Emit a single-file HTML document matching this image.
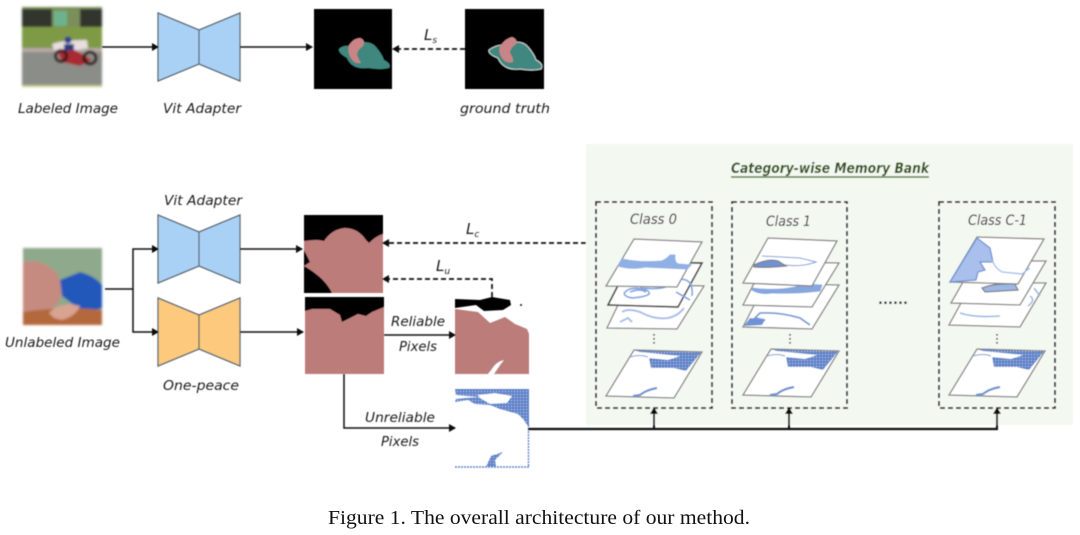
<!DOCTYPE html>
<html><head><meta charset="utf-8"><style>
html,body{margin:0;padding:0;background:#fff}
svg{display:block}
text{font-family:"DejaVu Sans","Liberation Sans",sans-serif;font-style:italic;fill:#1c1c1c;font-size:13px}
</style></head><body>
<svg width="1080" height="535" viewBox="0 0 1080 535" xmlns="http://www.w3.org/2000/svg">
<defs>
<filter id="b" x="-5%" y="-5%" width="110%" height="110%"><feGaussianBlur stdDeviation="0.5"/></filter>
<filter id="b2" x="-5%" y="-5%" width="110%" height="110%"><feGaussianBlur stdDeviation="1"/></filter>
<pattern id="h" width="3" height="3" patternUnits="userSpaceOnUse"><rect width="3" height="3" fill="#5f82c8"/><circle cx="1.5" cy="1.5" r=".6" fill="#c3d2ef"/></pattern>
<marker id="a" markerWidth="7" markerHeight="8" refX="6" refY="4" orient="auto" markerUnits="userSpaceOnUse"><path d="M0 0L7 4L0 8z" fill="#111"/></marker>
<g id="bp">
<polygon points="634,350 702,352 674,398 606,396" fill="#fff" stroke="#808080" stroke-width="1.3"/>
<polygon points="635,350.5 701,352.5 686,371 674,368 651,368 649,358 668,360 680,356 650,353 640,352" fill="url(#h)"/>
<path d="M630,357 Q640,354 648,357" fill="none" stroke="#7c9bd8" stroke-width="1"/>
<path d="M657,388 Q646,390 640,395 L633,396" fill="none" stroke="#6f92d4" stroke-width="2.2"/>
</g>
</defs>
<rect width="1080" height="535" fill="#fff"/>
<g filter="url(#b)">
<rect x="586" y="144" width="487" height="281" fill="#f3f8f1"/>

<!-- Labeled image -->
<g filter="url(#b2)">
<rect x="22" y="7" width="80" height="80" fill="#8b8d88"/>
<rect x="22" y="7" width="80" height="20" fill="#7a8f5a"/>
<rect x="22" y="9" width="30" height="18" fill="#30362f"/>
<rect x="80" y="9" width="22" height="18" fill="#30362f"/>
<rect x="54" y="11" width="13" height="15" fill="#6cb38c"/>
<rect x="22" y="27" width="80" height="21" fill="#7f9a45"/>
<rect x="22" y="48" width="80" height="4" fill="#b5a8a4"/>
<rect x="22" y="85" width="80" height="2" fill="#c9c98a"/>
<path d="M52 44Q62 40 87 40L88 48L66 52L54 50z" fill="#e8dede"/>
<circle cx="68" cy="40" r="3.5" fill="#2b3f8f"/>
<path d="M64 44h10v7H64z" fill="#2b3a80"/>
<path d="M58 52L75 50L92 60L80 66L62 62z" fill="#a82a30"/>
<circle cx="61" cy="56" r="5.5" fill="none" stroke="#3a1518" stroke-width="3"/>
<circle cx="90" cy="58" r="6" fill="none" stroke="#2a1214" stroke-width="3"/>
</g>

<!-- Encoders -->
<g stroke="#5b6773" stroke-width="1.3">
<polygon points="158,13 199,30 240,13 240,81 199,64 158,81" fill="#a9d1f5"/><line x1="199" y1="30" x2="199" y2="64"/>
<polygon points="158,215 199,232 240,215 240,283 199,266 158,283" fill="#a9d1f5"/><line x1="199" y1="232" x2="199" y2="266"/>
<polygon points="158,298 199,315 240,298 240,366 199,349 158,366" fill="#fdca7d"/><line x1="199" y1="315" x2="199" y2="349"/>
</g>

<!-- Top masks -->
<rect x="314" y="9" width="78" height="80" fill="#000"/>
<path d="M339 49Q343 45 350 46L364 42Q372 42 376 47Q382 54 384 60Q392 64 389 68Q380 70 368 68Q352 70 347 58Q338 53 339 49z" fill="#41877f"/>
<path d="M349 45Q354 38 360 38Q366 40 363 46Q357 50 357 55Q359 60 361 63Q354 64 351 58Q347 52 349 45z" fill="#c98585"/>
<rect x="465" y="9" width="79" height="80" fill="#000"/>
<path d="M489 50Q496 45 503 45L516 42Q524 42 528 47Q534 54 536 60Q544 64 541 69Q532 71 520 69Q504 71 498 58Q488 54 489 50z" fill="#41877f" stroke="#c9d4d0" stroke-width="1"/>
<path d="M500 46Q506 38 512 37Q518 39 516 44Q510 48 510 53Q514 59 513 62Q506 64 502 58Q498 52 500 46z" fill="#c98585"/>

<!-- Baby -->
<g filter="url(#b2)">
<rect x="23" y="248" width="79" height="77" fill="#8ea98c"/>
<path d="M23 262Q40 258 56 272Q64 285 60 300L52 310L23 312z" fill="#c68b80"/>
<path d="M60 280L80 272Q95 276 102 285V308L90 312L78 308L62 296z" fill="#2158ba"/>
<path d="M23 312Q60 306 102 310V325H23z" fill="#b4693c"/>
<path d="M49 313Q56 305 70 304L80 306Q76 316 62 320L54 318z" fill="#d9a391"/>
</g>

<!-- Bottom masks -->
<rect x="304" y="215" width="79" height="78" fill="#000"/>
<path d="M304 241Q318 239 324 241Q332 229 345 228Q358 228 366 240L369 243Q376 236 383 234V293H332Q325 278 304 266L310 262L304 250z" fill="#bc7b7a"/>
<rect x="305" y="297" width="79" height="77" fill="#bc7b7a"/>
<path d="M305 297H384V307L372 312L366 316L358 314L350 318L342 322L340 315L330 309L312 309L305 311z" fill="#000"/>
<path d="M455 309L478 312L490 323L505 317L515 324L527 329L529 334V374H455z" fill="#bc7b7a"/>
<path d="M455 299L480 300L492 297L510 300L511 305L503 310L484 311L476 305L455 308z" fill="#000"/>
<circle cx="521" cy="305" r="1" fill="#222"/>
<path d="M492 369Q496 362 504 360L500 365L494 374H488z" fill="#fff"/>
<!-- Unreliable -->
<path d="M455 389H529V425H527L524 420L518 414L500 409L490 405L475 404L468 400L455 402L456 399L478 397L490 404L507 403L512 396L495 393L477 395L480 397L456 395z" fill="url(#h)"/>
<path d="M528.5 425V467" stroke="#5f82c8" stroke-width="1.4" stroke-dasharray="2 1"/>
<path d="M455 467H529" stroke="#5f82c8" stroke-width="1.4" stroke-dasharray="2 1"/>
<path d="M486 467L491 456L503 452L495 460L496 467z" fill="url(#h)"/>
<!-- Arrows -->
<g stroke="#111" stroke-width="1.5" fill="none">
<line x1="102" y1="47" x2="158" y2="47" marker-end="url(#a)"/>
<line x1="240" y1="47" x2="312" y2="47" marker-end="url(#a)"/>
<line x1="465" y1="49" x2="393" y2="49" stroke-dasharray="5 3" stroke-width="1.7" marker-end="url(#a)"/>
<path d="M105 289H133"/>
<polyline points="133,289 133,249 158,249" marker-end="url(#a)"/>
<polyline points="133,289 133,332 158,332" marker-end="url(#a)"/>
<line x1="240" y1="249" x2="302" y2="249" marker-end="url(#a)"/>
<line x1="240" y1="332" x2="303" y2="332" marker-end="url(#a)"/>
<line x1="586" y1="243" x2="383" y2="243" stroke-dasharray="5 3" stroke-width="1.7" marker-end="url(#a)"/>
<polyline points="492,297 492,279 383,279" stroke-dasharray="5 3" stroke-width="1.7" marker-end="url(#a)"/>
<line x1="384" y1="335" x2="455" y2="335" marker-end="url(#a)"/>
<polyline points="344,374 344,428 455,428" marker-end="url(#a)"/>
<line x1="528" y1="429" x2="998" y2="429" stroke-width="2.2"/>
<line x1="654" y1="429" x2="654" y2="408" stroke-width="2" marker-end="url(#a)"/>
<line x1="789" y1="429" x2="789" y2="408" stroke-width="2" marker-end="url(#a)"/>
<line x1="997" y1="429" x2="997" y2="408" stroke-width="2" marker-end="url(#a)"/>
</g>
<!-- Dashed class boxes -->
<g fill="none" stroke="#222" stroke-width="1.8" stroke-dasharray="5 3">
<rect x="596" y="202" width="116" height="206"/>
<rect x="732" y="202" width="115" height="206"/>
<rect x="939" y="202" width="116" height="206"/>
</g>
<!-- Plates -->
<g stroke="#808080" stroke-width="1.3" fill="#fff">
<polygon points="628,284 704,286 677,329 607,328"/>
<path d="M622 312Q628 308 640 312Q655 320 668 318Q678 316 684 308M620 322L628 318L632 322" fill="none" stroke="#a9c0e8" stroke-width="2"/>
<polygon points="630,262 702,263 678,307 608,305" stroke="#444" stroke-width="1.7"/>
<path d="M625 292Q632 285 648 291Q654 296 632 298Q622 296 625 292M630 292Q640 288 646 292M640 288Q660 290 668 286M676 280Q694 276 692 296M676 292L690 300" fill="none" stroke="#84a6e2" stroke-width="1.7"/>
<polygon points="634,239 702,242 677,287 606,286"/>
<path d="M622 259Q640 263 662 261Q668 258 670 255L675 255Q674 262 678 264L691 265L687 269Q665 268 645 267Q632 270 618 266z" fill="#8fb0e5" stroke="#8fb0e5" stroke-width="1"/>
<polygon points="765,284 839,285 812,329 743,327"/>
<path d="M745 325L765 320L755 318L760 313Q780 312 800 318L810 325" fill="none" stroke="#7c9bd8" stroke-width="1.8"/>
<path d="M744 326L750 318L765 320L762 325z" fill="#6f92d4" stroke="none"/>
<polygon points="765,262 839,263 812,307 743,305"/>
<path d="M752 288Q775 291 795 287L803 284L822 285L820 291Q795 294 772 293Q760 295 752 290z" fill="#86a6de" stroke="#86a6de" stroke-width=".8"/>
<polygon points="768,238 837,241 812,286 743,283"/>
<path d="M762 256L800 258L816 262Q800 268 780 264" fill="none" stroke="#7c9bd8" stroke-width="1"/>
<path d="M754 265Q768 258 778 261L786 266Q768 268 754 267z" fill="#6f92d4"/>
<polygon points="972,283 1046,283 1020,327 949,325"/>
<path d="M960 313Q975 318 1000 316M1030 296Q1036 300 1028 306M1034 288L1040 296" fill="none" stroke="#9ab7e6" stroke-width="1.6"/>
<polygon points="975,261 1046,261 1020,305 951,303"/>
<path d="M982 288Q995 283 1015 284L1018 290L985 292z" fill="#9ab7e6"/>
<polygon points="977,237 1044,239 1018,284 950,282"/>
<path d="M977 238L990 248L993 262L980 262L985 270L978 272L976 280L950 282Z" fill="#a9c0ec" stroke="#6f92d4"/>
<path d="M992 260Q995 268 1002 272L1022 274L1030 268" fill="none" stroke="#a9c0ec" stroke-width="1.4"/>
</g>
<use href="#bp"/>
<use href="#bp" transform="translate(137,-1)"/>
<use href="#bp" transform="translate(343,-1)"/>
<!-- Vertical dots -->
<g stroke="#333" stroke-width="1.6" stroke-dasharray="1.6 2.4">
<line x1="654" y1="334" x2="654" y2="346"/>
<line x1="790" y1="334" x2="790" y2="346"/>
<line x1="997" y1="334" x2="997" y2="346"/>
</g>
<line x1="731" y1="177" x2="929" y2="177" stroke="#567a45" stroke-width="1.6"/>
<!-- Labels -->
<text x="18" y="113" textLength="100" lengthAdjust="spacingAndGlyphs">Labeled Image</text>
<text x="163" y="113" textLength="78" lengthAdjust="spacingAndGlyphs">Vit Adapter</text>
<text x="460" y="113" textLength="90" lengthAdjust="spacingAndGlyphs">ground truth</text>
<text x="164" y="205" textLength="78" lengthAdjust="spacingAndGlyphs">Vit Adapter</text>
<text x="5" y="347" textLength="115" lengthAdjust="spacingAndGlyphs">Unlabeled Image</text>
<text x="163" y="390" textLength="76" lengthAdjust="spacingAndGlyphs">One-peace</text>
<text x="391" y="326" textLength="54" lengthAdjust="spacingAndGlyphs">Reliable</text>
<text x="399" y="351" textLength="38" lengthAdjust="spacingAndGlyphs">Pixels</text>
<text x="365" y="422" textLength="70" lengthAdjust="spacingAndGlyphs">Unreliable</text>
<text x="381" y="446" textLength="38" lengthAdjust="spacingAndGlyphs">Pixels</text>
<text x="630" y="224" textLength="47" lengthAdjust="spacingAndGlyphs" style="font-size:14px">Class 0</text>
<text x="766" y="226" textLength="45" lengthAdjust="spacingAndGlyphs" style="font-size:14px">Class 1</text>
<text x="968" y="225" textLength="59" lengthAdjust="spacingAndGlyphs" style="font-size:14px">Class C-1</text>
<text x="731" y="173" textLength="198" lengthAdjust="spacingAndGlyphs" style="font-weight:bold;fill:#35531f;font-size:14px">Category-wise Memory Bank</text>
<text x="878" y="304" textLength="30" style="font-style:normal;font-weight:bold">......</text>
<text x="424" y="40" style="font-size:15px">L<tspan dy="3" font-size="9">s</tspan></text>
<text x="466" y="234" style="font-size:15px">L<tspan dy="3" font-size="9">c</tspan></text>
<text x="436" y="271" style="font-size:15px">L<tspan dy="3" font-size="9">u</tspan></text>
</g>
<text x="328" y="524" textLength="422" lengthAdjust="spacingAndGlyphs" style="font-family:'Liberation Serif',serif;font-style:normal;font-size:19.5px;fill:#111">Figure 1. The overall architecture of our method.</text>
</svg>
</body></html>
